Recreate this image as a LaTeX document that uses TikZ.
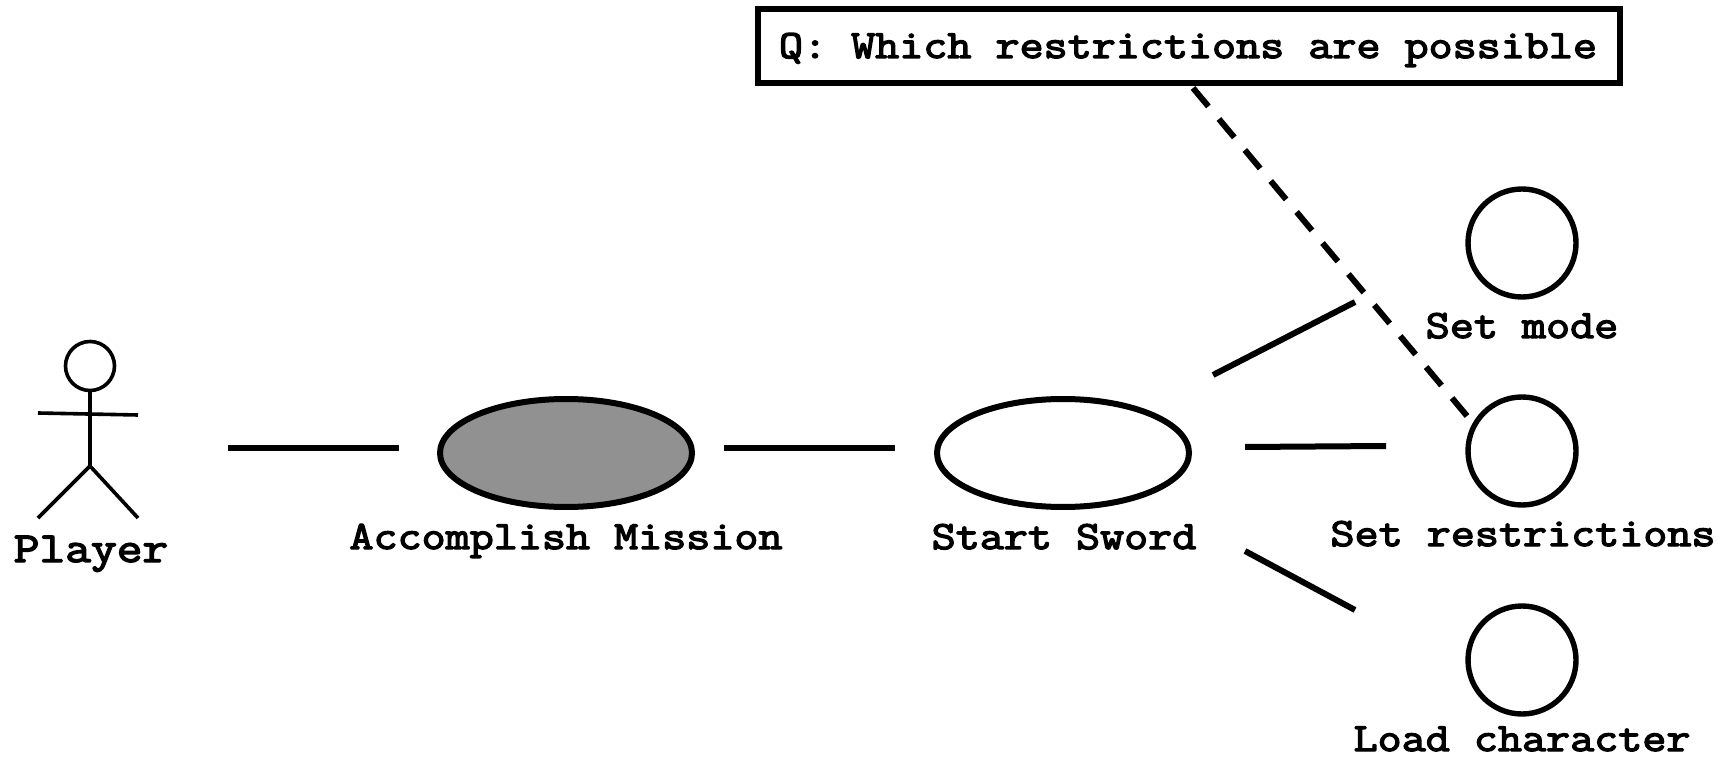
\documentclass[tikz,border=0pt]{standalone}
\usepackage{fontspec}
\usepackage{tikz}
\usetikzlibrary{positioning}
\usetikzlibrary{shapes.geometric}
\newfontfamily\diagfont{Latin Modern Mono}[FakeBold=3.4,FakeStretch=1.168]
\tikzset{
	usecase/.style={draw=black, line width=3pt, ellipse, minimum width=126pt, minimum height=54pt, inner sep=0pt},
	ext/.style={draw=black, line width=2.7pt, circle, minimum size=54pt, inner sep=0pt},
	lbl/.style={font=\diagfont\fontsize{20}{20}\selectfont, inner sep=0pt, anchor=base},
	assoc/.style={line width=3pt},
	stick/.style={line width=1.8pt}
}
\begin{document}
\begin{tikzpicture}[x=0.5pt, y=-0.5pt]
	\useasboundingbox (0,0) rectangle (1727,758);
	% actor
	\node[draw=black, stick, circle, minimum size=24.5pt, inner sep=0pt] (head) at (90,366) {};
	\coordinate (crotch) at (90,466);
	\coordinate (handl) at (38,413);
	\coordinate (handr) at (138,415);
	\coordinate (footl) at (38,518);
	\coordinate (footr) at (138,518);
	\draw[stick] (head) -- (crotch);
	\draw[stick] (handl) -- (handr);
	\draw[stick] (footl) -- (crotch) -- (footr);
	\node[lbl, font=\diagfont\fontsize{21.4}{21.4}\selectfont] (player) at (91,562) {Player};

	% use cases
	\node[usecase, fill=black!43] (mission) at (566,453) {};
	\node[usecase] (sword) at (1063,453) {};
	\node[lbl] (missionlbl) at (566,549) {Accomplish Mission};
	\node[lbl] (swordlbl) at (1064,549) {Start Sword};

	\node[ext] (mode) at (1522,243) {};
	\node[ext] (restr) at (1522,451) {};
	\node[ext] (load) at (1522,660) {};
	\node[lbl] (modelbl) at (1522,338) {Set mode};
	\node[lbl] (restrlbl) at (1523,546) {Set restrictions};
	\node[lbl] (loadlbl) at (1522,751) {Load character};

	% associations
	\coordinate (a1) at (228,448);
	\coordinate (a2) at (399,448);
	\coordinate (b1) at (724,448);
	\coordinate (b2) at (895,448);
	\coordinate (c1) at (1213,375);
	\coordinate (c2) at (1355,302);
	\coordinate (d1) at (1245,447);
	\coordinate (d2) at (1386,446);
	\coordinate (e1) at (1245,551);
	\coordinate (e2) at (1355,610);
	\draw[assoc] (a1) -- (a2);
	\draw[assoc] (b1) -- (b2);
	\draw[assoc] (c1) -- (c2);
	\draw[assoc] (d1) -- (d2);
	\draw[assoc] (e1) -- (e2);

	% question
	\node[draw=black, line width=3pt, minimum width=431pt, minimum height=37pt, inner sep=0pt] (question) at (1189,46) {};
	\node[lbl] (questionlbl) at (1188,58) {Q: Which restrictions are possible};
	\coordinate (dash1) at (1193,88);
	\coordinate (dash2) at (1467,416);
	\draw[assoc, dash pattern=on 12pt off 8.2pt] (dash1) -- (dash2);
\end{tikzpicture}
\end{document}
